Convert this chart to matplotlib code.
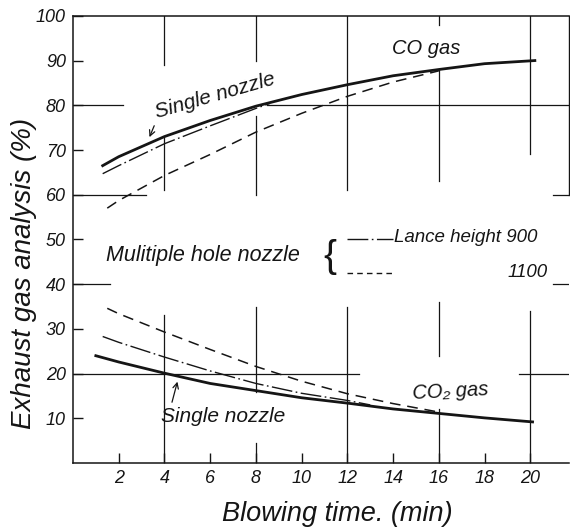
import matplotlib
matplotlib.use('Agg')
import matplotlib.pyplot as plt

# CO gas curves (blowing time in min, %)
co_single_t = [1.3, 2, 4, 6, 8, 10, 12, 14, 16, 18, 20.2]
co_single = [66.5, 68.5, 73.0, 76.6, 79.8, 82.4, 84.6, 86.6, 88.0, 89.3, 90.0]
co_900_t = [1.3, 2, 4, 6, 8, 8.6]
co_900 = [64.7, 66.5, 71.4, 75.4, 79.3, 80.4]
co_1100_t = [1.5, 2, 4, 6, 8, 10, 12, 14, 16]
co_1100 = [57.0, 58.7, 64.3, 69.0, 74.0, 78.2, 82.0, 85.2, 87.7]

# CO2 gas curves
co2_single_t = [1.0, 2, 4, 6, 8, 10, 12, 14, 16, 18, 20.1]
co2_single = [24.0, 22.6, 20.1, 17.8, 16.2, 14.6, 13.4, 12.1, 11.1, 10.1, 9.2]
co2_900_t = [1.3, 2, 4, 6, 8, 10, 12, 13]
co2_900 = [28.3, 27.0, 23.7, 20.6, 17.8, 15.6, 14.0, 13.0]
co2_1100_t = [1.5, 2, 4, 6, 8, 10, 12, 14, 16]
co2_1100 = [34.6, 33.4, 29.3, 25.4, 21.6, 18.3, 15.5, 13.3, 11.4]

xticks = [2, 4, 6, 8, 10, 12, 14, 16, 18, 20]
yticks = [10, 20, 30, 40, 50, 60, 70, 80, 90, 100]

# hand-drawn partial grid of the original sheet
vgrid = {4: [(89, 100), (61, 73), (0, 33)],
         8: [(90, 100), (60, 77.5), (16, 35), (0, 4.5)],
         12: [(61, 100), (0, 35)],
         16: [(98, 100), (63, 88), (24, 36), (0, 12)],
         20: [(69, 100), (0, 34)]}
hgrid = {80: [(0, 2.2), (8.5, 21.7)],
         60: [(0, 3.2), (21.0, 21.7)],
         40: [(0, 1.6), (21.0, 21.7)],
         20: [(0, 12.5), (19.5, 21.7)]}

plt.rcParams['font.family'] = ['Liberation Sans', 'DejaVu Sans']
plt.rcParams['font.style'] = 'italic'
ink = '#151515'

fig = plt.figure(figsize=(5.7, 5.28), dpi=100)
ax = fig.add_axes([0.128, 0.123, 0.8705, 0.847])
ax.set_xlim(0, 21.7)
ax.set_ylim(0, 100)

for x, segs in vgrid.items():
    for y0, y1 in segs:
        ax.plot([x, x], [y0, y1], color=ink, lw=0.9)
for y, segs in hgrid.items():
    for x0, x1 in segs:
        ax.plot([x0, x1], [y, y], color=ink, lw=0.9)
ax.plot([21.7, 21.7], [60, 100], color=ink, lw=1.0, clip_on=False)

dashed = (0, (7, 4.5))
dashdot = (0, (15, 2.5, 1.2, 2.5))
ax.plot(co_single_t, co_single, color=ink, lw=2.0)
ax.plot(co_900_t, co_900, color=ink, lw=1.0, linestyle=dashdot)
ax.plot(co_1100_t, co_1100, color=ink, lw=1.1, linestyle=dashed)
ax.plot(co2_single_t, co2_single, color=ink, lw=2.0)
ax.plot(co2_900_t, co2_900, color=ink, lw=1.0, linestyle=dashdot)
ax.plot(co2_1100_t, co2_1100, color=ink, lw=1.1, linestyle=dashed)

ax.spines['right'].set_visible(False)
for s in ['left', 'top', 'bottom']:
    ax.spines[s].set_linewidth(1.1)
    ax.spines[s].set_color(ink)

ax.set_xticks(xticks)
ax.set_yticks(yticks)
ax.tick_params(direction='in', length=7, width=1, colors=ink, labelsize=13, pad=5)

ax.set_xlabel('Blowing time. (min)', fontsize=19.5, color=ink)
ax.xaxis.set_label_coords(0.533, -0.085)
ax.set_ylabel('Exhaust gas analysis (%)', fontsize=20, color=ink)
ax.yaxis.set_label_coords(-0.073, 0.425)

ax.text(6.2, 82.2, 'Single nozzle', fontsize=15, rotation=16, ha='center', va='center',
        rotation_mode='anchor', color=ink)
ax.annotate('', xy=(3.3, 72.3), xytext=(3.6, 76.0),
            arrowprops=dict(arrowstyle='->', color=ink, lw=0.9))
ax.text(6.55, 10.3, 'Single nozzle', fontsize=15, ha='center', va='center', color=ink)
ax.annotate('', xy=(4.6, 18.8), xytext=(4.3, 13.0),
            arrowprops=dict(arrowstyle='->', color=ink, lw=0.9))
ax.text(15.45, 92.8, 'CO gas', fontsize=14.5, ha='center', va='center', color=ink)
ax.text(16.5, 16.1, 'CO₂ gas', fontsize=14.5, ha='center', va='center', rotation=3, color=ink)

ax.text(1.45, 46.3, 'Mulitiple hole nozzle', fontsize=15.5, ha='left', va='center', color=ink)
ax.text(11.25, 46.0, '{', fontsize=28, ha='center', va='center', color=ink,
        fontstyle='normal', fontweight='light')
ax.plot([12.0, 14.0], [50.2, 50.2], color=ink, lw=1.0, linestyle=dashdot)
ax.plot([12.0, 14.0], [42.5, 42.5], color=ink, lw=1.0, linestyle=(0, (4, 3)))
ax.text(14.05, 50.4, 'Lance height 900', fontsize=13.5, ha='left', va='center', color=ink)
ax.text(20.75, 42.7, '1100', fontsize=13.5, ha='right', va='center', color=ink)

fig.savefig('out.png', dpi=100, facecolor='white')
